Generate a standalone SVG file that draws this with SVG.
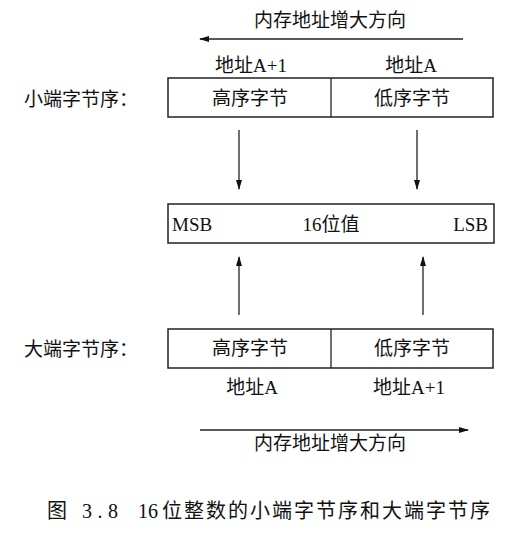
<svg xmlns="http://www.w3.org/2000/svg" width="516" height="535" viewBox="0 0 516 535">
<style>
text{font-family:"Liberation Serif","Noto Sans CJK SC",serif;fill:#111;font-size:19px}
.c{text-anchor:middle}
.cap{font-size:20px}
.box{fill:#fff;stroke:#222;stroke-width:1.5}
.ln{stroke:#222;stroke-width:1.3;fill:none}
</style>
<defs>
<marker id="ah" markerWidth="10" markerHeight="8" refX="9" refY="4" orient="auto" markerUnits="userSpaceOnUse">
<path d="M0,1 L10,4 L0,7 z" fill="#111"/>
</marker>
</defs>
<rect width="516" height="535" fill="#fff"/>
<g id="connectors">
<line class="ln" x1="463" y1="39" x2="200" y2="39" marker-end="url(#ah)"/>
<line class="ln" x1="239" y1="130" x2="239" y2="189" marker-end="url(#ah)"/>
<line class="ln" x1="417" y1="130" x2="417" y2="189" marker-end="url(#ah)"/>
<line class="ln" x1="239" y1="315" x2="239" y2="257" marker-end="url(#ah)"/>
<line class="ln" x1="423" y1="315" x2="423" y2="257" marker-end="url(#ah)"/>
<line class="ln" x1="200" y1="430" x2="468" y2="430" marker-end="url(#ah)"/>
</g>
<g id="top-dir"><text class="c" x="330" y="27">内存地址增大方向</text></g>
<g id="little-endian">
<text x="24" y="106">小端字节序：</text>
<text class="c" x="251" y="72">地址A+1</text>
<text class="c" x="411" y="72">地址A</text>
<rect class="box" x="168" y="78" width="325" height="39"/>
<line class="ln" x1="331" y1="78" x2="331" y2="117"/>
<text class="c" x="250" y="105">高序字节</text>
<text class="c" x="412" y="105">低序字节</text>
</g>
<g id="value">
<rect class="box" x="168" y="204" width="326" height="39"/>
<text x="172" y="231">MSB</text>
<text class="c" x="331" y="231">16位值</text>
<text x="488" y="231" text-anchor="end">LSB</text>
</g>
<g id="big-endian">
<text x="24" y="356">大端字节序：</text>
<rect class="box" x="168" y="329" width="325" height="39"/>
<line class="ln" x1="331" y1="329" x2="331" y2="368"/>
<text class="c" x="250" y="355">高序字节</text>
<text class="c" x="412" y="355">低序字节</text>
<text class="c" x="252" y="394">地址A</text>
<text class="c" x="409" y="394">地址A+1</text>
</g>
<g id="caption"><text class="cap" y="518"><tspan x="47">图</tspan><tspan x="82" textLength="36" lengthAdjust="spacing">3.8</tspan><tspan x="138">16</tspan><tspan x="162" textLength="328" lengthAdjust="spacing">位整数的小端字节序和大端字节序</tspan></text></g>
<g id="bottom-dir"><text class="c" x="330" y="450">内存地址增大方向</text></g>
</svg>
